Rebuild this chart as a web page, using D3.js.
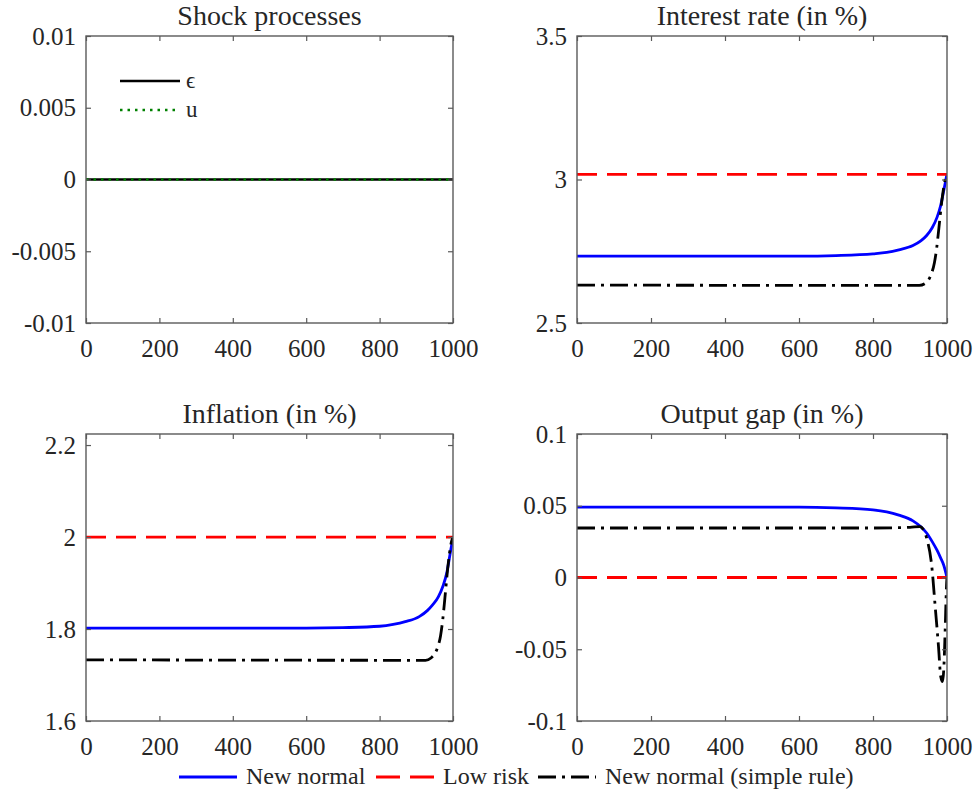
<!DOCTYPE html>
<html>
<head>
<meta charset="utf-8">
<script src="https://cdn.jsdelivr.net/npm/d3@7"></script>
<style>
  body { margin: 0; background: #fff; }
  text { font-family: "Liberation Serif", "Times New Roman", serif; fill: #262626; }
</style>
</head>
<body>
<div class="chart"></div>
<script>
// x ticks shared by all panels
const xTicks = [0, 200, 400, 600, 800, 1000];

// shock processes
const shockEps = [[0, 0], [1000, 0]];
const shockU = [[0, 0], [1000, 0]];

// interest rate (in %)
const rateNew = [[0, 2.733], [600, 2.733], [700, 2.735], [800, 2.741], [837, 2.746], [870, 2.755], [908, 2.77], [930, 2.787], [945, 2.805], [960, 2.832], [973, 2.868], [983, 2.91], [991, 2.96], [1000, 3.02]];
const rateLow = [[0, 3.018], [1000, 3.018]];
const rateSimple = [[0, 2.632], [900, 2.631], [925, 2.631], [940, 2.637], [950, 2.65], [958, 2.672], [966, 2.71], [972, 2.76], [978, 2.83], [986, 2.925], [995, 3.0], [1000, 3.02]];

// inflation (in %)
const inflNew = [[0, 1.802], [600, 1.802], [700, 1.803], [800, 1.806], [837, 1.81], [870, 1.816], [908, 1.827], [930, 1.84], [945, 1.853], [960, 1.87], [973, 1.894], [983, 1.922], [991, 1.958], [1000, 2.0]];
const inflLow = [[0, 2.0], [1000, 2.0]];
const inflSimple = [[0, 1.733], [900, 1.732], [925, 1.732], [940, 1.737], [950, 1.746], [958, 1.76], [966, 1.785], [972, 1.82], [978, 1.868], [986, 1.935], [995, 1.987], [1000, 2.0]];

// output gap (in %)
const gapNew = [[0, 0.049], [600, 0.049], [700, 0.0485], [800, 0.0472], [837, 0.0458], [870, 0.0435], [908, 0.0395], [930, 0.0352], [945, 0.031], [960, 0.025], [973, 0.019], [983, 0.0135], [991, 0.0087], [1000, 0]];
const gapLow = [[0, 0], [1000, 0]];
const gapSimple = [[0, 0.0345], [800, 0.0345], [900, 0.035], [927, 0.0355], [937, 0.033], [945, 0.0275], [959, 0.0075], [968, -0.02], [977, -0.048], [983, -0.069], [988, -0.0726], [992, -0.06], [995, -0.037], [999, -0.004], [1000, 0]];

const titles = ["Shock processes", "Interest rate (in %)", "Inflation (in %)", "Output gap (in %)"];
const yTicks1 = [-0.01, -0.005, 0, 0.005, 0.01];
const yTicks2 = [2.5, 3, 3.5];
const yTicks3 = [1.6, 1.8, 2, 2.2];
const yTicks4 = [-0.1, -0.05, 0, 0.05, 0.1];
const legendNames = ["New normal", "Low risk", "New normal (simple rule)"];

const W = 978, H = 791;
const svg = d3.select(".chart").append("svg").attr("width", W).attr("height", H);

const styles = {
  eps: { stroke: "#000", width: 2.5, dash: null },
  u: { stroke: "#008000", width: 2.5, dash: "2.5,5" },
  newn: { stroke: "#0000ff", width: 2.8, dash: null },
  low: { stroke: "#ff0000", width: 2.8, dash: "20,10" },
  simple: { stroke: "#000", width: 2.8, dash: "18,6,3,6" }
};

const fmt = d => String(+d.toFixed(4));
const tickFont = "25px";

function panel(cfg) {
  const { x0, x1, y0, y1 } = cfg;
  const x = d3.scaleLinear().domain([0, 1000]).range([x0, x1]);
  const y = d3.scaleLinear().domain(cfg.yDomain).range([y1, y0]);
  const g = svg.append("g");

  const clipId = "clip" + cfg.id;
  svg.append("clipPath").attr("id", clipId)
    .append("rect").attr("x", x0).attr("y", y0 - 2).attr("width", x1 - x0).attr("height", y1 - y0 + 4);

  const line = d3.line().x(d => x(d[0])).y(d => y(d[1])).curve(d3.curveMonotoneX);
  const lines = g.append("g").attr("clip-path", `url(#${clipId})`);
  cfg.series.forEach(s => {
    const st = styles[s.style];
    lines.append("path")
      .attr("d", line(s.data))
      .attr("fill", "none")
      .attr("stroke", st.stroke)
      .attr("stroke-width", st.width)
      .attr("stroke-dasharray", st.dash)
      .attr("stroke-linejoin", "round");
  });

  // axes with inside ticks, mirrored on top/right
  const axCol = "#5a5a5a";
  const bottom = g.append("g").attr("transform", `translate(0,${y1})`)
    .call(d3.axisBottom(x).tickValues(xTicks).tickFormat(fmt).tickSizeInner(-5).tickSizeOuter(0).tickPadding(16));
  const top = g.append("g").attr("transform", `translate(0,${y0})`)
    .call(d3.axisTop(x).tickValues(xTicks).tickFormat("").tickSizeInner(-5).tickSizeOuter(0));
  const left = g.append("g").attr("transform", `translate(${x0},0)`)
    .call(d3.axisLeft(y).tickValues(cfg.yTicks).tickFormat(fmt).tickSizeInner(-5).tickSizeOuter(0).tickPadding(10));
  const right = g.append("g").attr("transform", `translate(${x1},0)`)
    .call(d3.axisRight(y).tickValues(cfg.yTicks).tickFormat("").tickSizeInner(-5).tickSizeOuter(0));
  [bottom, top, left, right].forEach(a => {
    a.select(".domain").remove();
    a.selectAll("line").attr("stroke", axCol).attr("stroke-width", 1.2);
    a.selectAll("text").style("font-size", tickFont).style("font-family", "Liberation Serif").attr("fill", "#262626");
  });

  g.append("rect").attr("x", x0).attr("y", y0).attr("width", x1 - x0).attr("height", y1 - y0)
    .attr("fill", "none").attr("stroke", axCol).attr("stroke-width", 1.4);

  g.append("text").attr("x", (x0 + x1) / 2).attr("y", y0 - 11)
    .attr("text-anchor", "middle").style("font-size", "28px").text(cfg.title);
  return { x, y, g };
}

const L1 = 86, R1 = 453, L2 = 577, R2 = 947;
const T1 = 36, B1 = 323, T2 = 434, B2 = 721;

panel({ id: 1, x0: L1, x1: R1, y0: T1, y1: B1, yDomain: [-0.01, 0.01], yTicks: yTicks1, title: titles[0],
  series: [{ data: shockEps, style: "eps" }, { data: shockU, style: "u" }] });
panel({ id: 2, x0: L2, x1: R2, y0: T1, y1: B1, yDomain: [2.5, 3.5], yTicks: yTicks2, title: titles[1],
  series: [{ data: rateNew, style: "newn" }, { data: rateLow, style: "low" }, { data: rateSimple, style: "simple" }] });
panel({ id: 3, x0: L1, x1: R1, y0: T2, y1: B2, yDomain: [1.6, 2.224], yTicks: yTicks3, title: titles[2],
  series: [{ data: inflNew, style: "newn" }, { data: inflLow, style: "low" }, { data: inflSimple, style: "simple" }] });
panel({ id: 4, x0: L2, x1: R2, y0: T2, y1: B2, yDomain: [-0.1, 0.1], yTicks: yTicks4, title: titles[3],
  series: [{ data: gapNew, style: "newn" }, { data: gapLow, style: "low" }, { data: gapSimple, style: "simple" }] });

// legend in shock panel
const shockLeg = [["ϵ", "eps", 81], ["u", "u", 110]];
shockLeg.forEach(([lab, st, yy]) => {
  const s = styles[st];
  svg.append("line").attr("x1", 120).attr("x2", 180).attr("y1", yy).attr("y2", yy)
    .attr("stroke", s.stroke).attr("stroke-width", s.width).attr("stroke-dasharray", s.dash);
  svg.append("text").attr("x", 186).attr("y", yy + 7).style("font-size", "23px").text(lab);
});

// bottom legend
const legItems = [
  { name: legendNames[0], style: "newn", lx: 179, tx: 246 },
  { name: legendNames[1], style: "low", lx: 376, tx: 443 },
  { name: legendNames[2], style: "simple", lx: 538, tx: 605 }
];
const legY = 777;
legItems.forEach(it => {
  const s = styles[it.style];
  svg.append("line").attr("x1", it.lx).attr("x2", it.lx + 58).attr("y1", legY).attr("y2", legY)
    .attr("stroke", s.stroke).attr("stroke-width", s.width).attr("stroke-dasharray", it.style === "low" ? "24,10" : s.dash);
  svg.append("text").attr("x", it.tx).attr("y", legY + 7).style("font-size", "24px").text(it.name);
});
</script>
</body>
</html>
